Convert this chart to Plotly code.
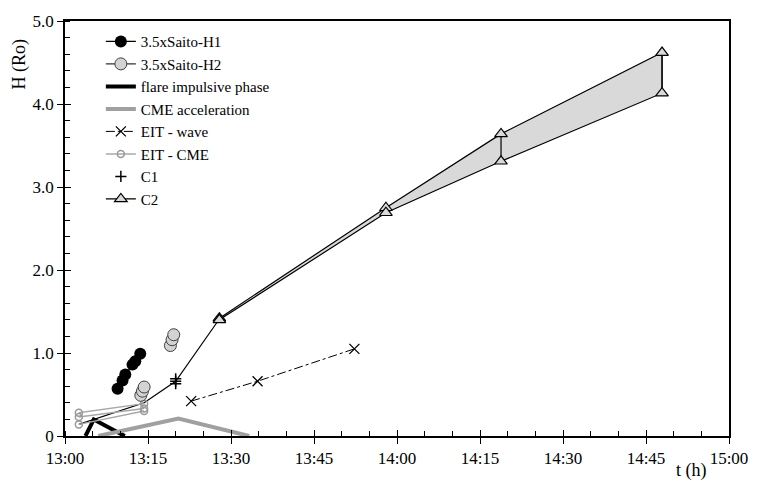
import plotly.graph_objects as go

# time in minutes after 13:00, height in solar radii
t_h1 = [9.5, 10.4, 10.9, 12.2, 12.7, 13.6]
h_h1 = [0.57, 0.67, 0.74, 0.86, 0.90, 0.99]

t_h2 = [13.7, 14.0, 14.3, None, 19.05, 19.35, 19.65]
h_h2 = [0.49, 0.54, 0.59, None, 1.09, 1.16, 1.22]

t_flare = [3.7, 5.2, 10.8]
h_flare = [0.0, 0.20, 0.0]

t_cme = [6.0, 20.5, 33.3]
h_cme = [0.0, 0.21, 0.0]

t_wave = [22.8, 34.8, 52.3]
h_wave = [0.42, 0.66, 1.05]

t_eitcme = [2.5, 14.3, None, 2.5, 14.3, None, 2.5, 14.3]
h_eitcme = [0.28, 0.39, None, 0.23, 0.33, None, 0.14, 0.30]

t_c1 = [20.0, 20.0, 20.0]
h_c1 = [0.63, 0.66, 0.69]

t_c2_early = [2.5, 14.3, 20.0, 27.9]
h_c2_early = [0.14, 0.40, 0.66, 1.41]

t_c2 = [27.9, 58.0, 78.8, 107.9]
h_c2_up = [1.42, 2.75, 3.64, 4.62]
h_c2_lo = [1.40, 2.69, 3.31, 4.13]

x_tickvals = [0, 15, 30, 45, 60, 75, 90, 105, 120]
x_ticktext = ["13:00", "13:15", "13:30", "13:45", "14:00", "14:15", "14:30", "14:45", "15:00"]
y_tickvals = [0, 1, 2, 3, 4, 5]
y_ticktext = ["0", "1.0", "2.0", "3.0", "4.0", "5.0"]

FONT = "Liberation Serif"
fig = go.Figure()

# shaded C2 band
fig.add_trace(go.Scatter(
    x=t_c2 + t_c2[::-1], y=h_c2_up + h_c2_lo[::-1],
    fill="toself", fillcolor="#d9d9d9", mode="lines",
    line=dict(color="black", width=1.2), showlegend=False, hoverinfo="skip"))

# vertical connectors of C2 band
vx, vy = [], []
for t, lo, up in zip(t_c2[1:], h_c2_lo[1:], h_c2_up[1:]):
    vx += [t, t, None]
    vy += [lo, up, None]
fig.add_trace(go.Scatter(x=vx, y=vy, mode="lines", line=dict(color="black", width=1.2),
                         showlegend=False, hoverinfo="skip"))

fig.add_trace(go.Scatter(x=t_c2_early, y=h_c2_early, mode="lines",
                         line=dict(color="black", width=1.2), showlegend=False))

fig.add_trace(go.Scatter(x=t_flare, y=h_flare, mode="lines", name="flare impulsive phase",
                         line=dict(color="black", width=4), legendrank=3))
fig.add_trace(go.Scatter(x=t_cme, y=h_cme, mode="lines", name="CME acceleration",
                         line=dict(color="#a0a0a0", width=4), legendrank=4))
fig.add_trace(go.Scatter(x=t_eitcme, y=h_eitcme, mode="lines+markers", name="EIT - CME",
                         line=dict(color="#a8a8a8", width=1.5),
                         marker=dict(symbol="circle-open", size=7, color="#999999",
                                     line=dict(width=1.5)), legendrank=6))
fig.add_trace(go.Scatter(x=t_wave, y=h_wave, mode="lines+markers", name="EIT - wave",
                         line=dict(color="black", width=1, dash="dashdot"),
                         marker=dict(symbol="x-thin", size=10, color="black",
                                     line=dict(width=1.3, color="black")), legendrank=5))
fig.add_trace(go.Scatter(x=t_h1, y=h_h1, mode="lines+markers", name="3.5xSaito-H1",
                         line=dict(color="black", width=1.2),
                         marker=dict(symbol="circle", size=12, color="black"), legendrank=1))
fig.add_trace(go.Scatter(x=t_h2, y=h_h2, mode="lines+markers", name="3.5xSaito-H2",
                         line=dict(color="#333333", width=1.2),
                         marker=dict(symbol="circle", size=12, color="#d3d3d3",
                                     line=dict(color="#404040", width=1)), legendrank=2))
fig.add_trace(go.Scatter(x=t_c1, y=h_c1, mode="markers", name="C1",
                         marker=dict(symbol="cross-thin", size=8, color="black",
                                     line=dict(width=1.5, color="black")), legendrank=7))
fig.add_trace(go.Scatter(x=t_c2 + [None] + t_c2, y=h_c2_up + [None] + h_c2_lo,
                         mode="markers", name="C2",
                         marker=dict(symbol="triangle-up", size=11, color="#d9d9d9",
                                     line=dict(color="black", width=1.2)),
                         showlegend=False))
# legend proxy for C2
fig.add_trace(go.Scatter(x=[None], y=[None], mode="lines+markers", name="C2",
                         line=dict(color="black", width=1.2),
                         marker=dict(symbol="triangle-up", size=11, color="#d9d9d9",
                                     line=dict(color="black", width=1.2)), legendrank=8))

# helper axes for ticks crossing the axis lines
fig.add_trace(go.Scatter(x=[None], y=[None], xaxis="x2", yaxis="y2", showlegend=False))

axis_common = dict(showgrid=False, zeroline=False, showline=True, linecolor="black",
                   linewidth=1.5, mirror=True, ticks="outside", ticklen=6,
                   tickwidth=1.3, tickcolor="black",
                   tickfont=dict(family=FONT, size=17, color="black"))

W, H = 760, 484
L, R, T, B = 65, 23, 12, 48
pw, ph = W - L - R, H - T - B

fig.update_layout(
    width=W, height=H,
    margin=dict(l=L, r=R, t=T, b=B),
    paper_bgcolor="white", plot_bgcolor="white",
    font=dict(family=FONT, size=16, color="black"),
    xaxis=dict(range=[0, 120], tickvals=x_tickvals, ticktext=x_ticktext,
               minor=dict(dtick=5, tick0=0, ticks="inside", ticklen=5, tickwidth=1,
                          tickcolor="black"),
               **axis_common),
    yaxis=dict(range=[0, 5], tickvals=y_tickvals, ticktext=y_ticktext,
               minor=dict(dtick=0.2, tick0=0, ticks="inside", ticklen=5, tickwidth=1,
                          tickcolor="black"),
               **axis_common),
    xaxis2=dict(overlaying="x", matches="x", range=[0, 120], tickvals=x_tickvals,
                ticks="inside", ticklen=6, tickwidth=1.3, tickcolor="black",
                showticklabels=False, showgrid=False, zeroline=False, showline=False,
                anchor="y2"),
    yaxis2=dict(overlaying="y", matches="y", range=[0, 5], tickvals=y_tickvals,
                ticks="inside", ticklen=6, tickwidth=1.3, tickcolor="black",
                showticklabels=False, showgrid=False, zeroline=False, showline=False,
                anchor="x2"),
    legend=dict(x=0.054, y=0.99, xanchor="left", yanchor="top",
                bgcolor="rgba(0,0,0,0)", font=dict(family=FONT, size=15, color="black"),
                tracegroupgap=0, itemwidth=30),
    showlegend=True,
)


def px2paper(px, py):
    return (px - L) / pw, (H - B - py) / ph


ax, ay = px2paper(19, 56)
fig.add_annotation(text="H (Ro)", textangle=-90, x=ax, y=ay, xref="paper", yref="paper",
                   xanchor="center", yanchor="middle", showarrow=False,
                   font=dict(family=FONT, size=18, color="black"))
ax, ay = px2paper(699, 471)
fig.add_annotation(text="t (h)", x=ax, y=ay, xref="paper", yref="paper",
                   xanchor="center", yanchor="middle", showarrow=False,
                   font=dict(family=FONT, size=18, color="black"))

fig.write_html("out.html")
